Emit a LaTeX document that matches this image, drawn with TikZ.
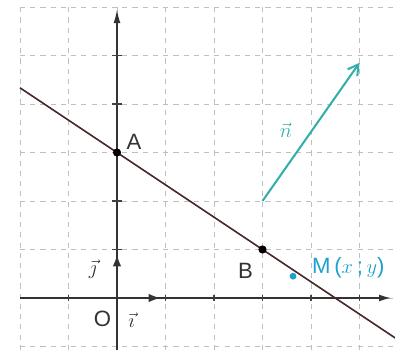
\documentclass[tikz,border=0pt]{standalone}
\usepackage{fontspec}
\setsansfont{Liberation Sans}
\usetikzlibrary{arrows.meta}
\definecolor{droite}{RGB}{70,40,40}
\definecolor{vecn}{RGB}{50,175,170}
\definecolor{ptM}{RGB}{30,160,205}
\tikzset{
  lbl/.style={font=\sffamily\fontsize{13}{15}\selectfont, text=black!80},
  tick/.style={thick, black!75},
  vecto/.style={line width=1.3pt, -{Latex[length=7pt,width=5pt]}},
}
\begin{document}
\begin{tikzpicture}
\useasboundingbox (-2.412,-1.072) rectangle (5.732,6.144);
\draw[gray!50,dashed,thin] (-2,-1.07) grid (5.732,6);
% axes
\coordinate (O) at (0,0);
\coordinate (xg) at (-2,0);
\coordinate (xd) at (5.65,0);
\coordinate (yb) at (0,-1.07);
\coordinate (yh) at (0,5.95);
\draw[thick,black!80,-{Latex[length=7pt,width=4pt]}] (xg) -- (xd);
\draw[thick,black!80,-{Latex[length=8pt,width=4pt]}] (yb) -- (yh);
\foreach \k in {-1,1,2,3,4,5} \draw[tick] (\k,-0.06) -- (\k,0.06);
\foreach \k in {1,2,4,5} \draw[tick] (-0.1,\k) -- (0.1,\k);
% vecteurs de base
\coordinate (I) at (0.9,0);
\coordinate (J) at (0,0.9);
\draw[black!80,vecto] (O) -- (I);
\draw[black!80,vecto] (O) -- (J);
\node[lbl] (lO) at (-0.3,-0.42) {O};
\node[lbl] (li) at (0.3,-0.45) {$\vec{\imath}$};
\node[lbl] (lj) at (-0.5,0.6) {$\vec{\jmath}$};
% droite (AB)
\coordinate (A) at (0,3);
\coordinate (B) at (3,1);
\coordinate (d1) at (-2,{3+4/3});
\coordinate (d2) at (5.8,{3-2/3*5.8});
\draw[droite,line width=0.9pt] (d1) -- (d2);
\fill[black] (A) circle (2.4pt);
\fill[black] (B) circle (2.4pt);
\node[lbl] (lA) at (0.35,3.22) {A};
\node[lbl] (lB) at (2.65,0.55) {B};
% vecteur normal
\coordinate (n0) at (3,2);
\coordinate (n1) at (5,4.85);
\draw[vecn,line width=1.2pt,-{Straight Barb[length=6pt,width=7pt]}] (n0) -- (n1);
\node[lbl,text=vecn] (ln) at (3.48,3.45) {$\vec{n}$};
% point M
\coordinate (M) at (3.63,0.45);
\fill[ptM] (M) circle (2pt);
\node[lbl,text=ptM,anchor=west] (lM) at (3.9,0.62) {M\,($x$\,;\,$y$)};
\end{tikzpicture}
\end{document}
